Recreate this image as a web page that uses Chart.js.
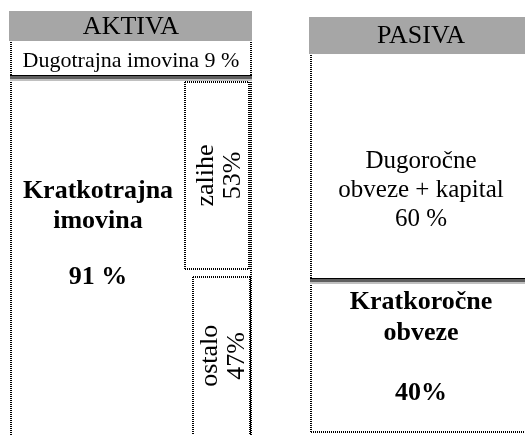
<!DOCTYPE html>
<html>
<head>
<meta charset="utf-8">
<script src="https://cdn.jsdelivr.net/npm/chart.js@4.4.1/dist/chart.umd.min.js"></script>
<style>
  html, body { margin: 0; padding: 0; background: #fff; overflow: hidden; }
  #wrap { position: relative; width: 525px; height: 435px; overflow: hidden; }
  #balance { position: absolute; left: -39px; top: 0; }
</style>
</head>
<body>
<div id="wrap"><canvas id="balance" width="620" height="445"></canvas></div>
<script>
// data
const columns = ["AKTIVA", "PASIVA"];
const aktivaNames = [["Dugotrajna", "imovina"], ["Kratkotrajna", "imovina"]];
const aktivaValues = [9, 91];
const aktivaSuffix = [" %", " %"];
const pasivaNames = [["Dugoročne", "obveze + kapital"], ["Kratkoročne", "obveze"]];
const pasivaValues = [60, 40];
const pasivaSuffix = [" %", "%"];
// split of kratkotrajna imovina (% of it)
const currentNames = ["zalihe", "ostalo"];
const currentValues = [53, 47];
const currentSuffix = ["%", "%"];

const SERIF = '"Liberation Serif", "Times New Roman", serif';
const VIEW_RIGHT = 564; // window edge in canvas px
const VIEW_BOTTOM = 435;

var datasets = [];
aktivaValues.forEach(function (v, i) {
  datasets.push({ label: aktivaNames[i].join(" "), data: [v, null], yAxisID: "y", stack: "bs" });
});
pasivaValues.forEach(function (v, i) {
  datasets.push({ label: pasivaNames[i].join(" "), data: [null, v], yAxisID: "y2", stack: "bs" });
});
datasets.forEach(function (d) {
  d.backgroundColor = "#ffffff";
  d.borderWidth = 0;
  d.categoryPercentage = 1;
  d.barPercentage = 0.8;
});

function boxOf(chart, dsIndex, idx) {
  var el = chart.getDatasetMeta(dsIndex).data[idx];
  return {
    left: el.x - el.width / 2,
    right: el.x + el.width / 2,
    top: Math.min(el.y, el.base),
    bottom: Math.max(el.y, el.base),
  };
}

function dotted(ctx, x1, y1, x2, y2) {
  ctx.save();
  ctx.strokeStyle = "#000";
  ctx.lineWidth = 2;
  ctx.setLineDash([1, 1]);
  ctx.beginPath();
  ctx.moveTo(Math.round(x1), Math.round(y1));
  ctx.lineTo(Math.round(x2), Math.round(y2));
  ctx.stroke();
  ctx.restore();
}

function dottedRect(ctx, l, t, r, b) {
  dotted(ctx, l, t, r, t);
  dotted(ctx, l, t, l, b);
  dotted(ctx, r, t, r, b);
  dotted(ctx, l, b, r, b);
}

function separator(ctx, l, r, y) {
  y = Math.round(y);
  ctx.fillStyle = "#000";
  ctx.fillRect(l, y - 3, r - l, 1);
  ctx.fillStyle = "#5f5f5f";
  ctx.fillRect(l, y - 2, r - l, 3);
  ctx.fillStyle = "#c0c0c0";
  ctx.fillRect(l, y + 1, r - l, 2);
}

function header(ctx, text, l, r, t, b, cx) {
  ctx.fillStyle = "#a6a6a6";
  ctx.fillRect(l, t, r - l, b - t);
  ctx.fillStyle = "#000";
  ctx.font = "26px " + SERIF;
  ctx.textAlign = "center";
  ctx.textBaseline = "middle";
  ctx.fillText(text, cx, (t + b) / 2 + 1);
}

function lines(ctx, arr, x, ys, font) {
  ctx.fillStyle = "#000";
  ctx.font = font;
  ctx.textAlign = "center";
  ctx.textBaseline = "middle";
  arr.forEach(function (s, i) {
    ctx.fillText(s, x, ys[i]);
  });
}

const balancePlugin = {
  id: "balanceSheet",
  afterDatasetsDraw: function (chart) {
    var ctx = chart.ctx;
    var a0 = boxOf(chart, 0, 0);
    var a1 = boxOf(chart, 1, 0);
    var p0 = boxOf(chart, 2, 1);
    var p1 = boxOf(chart, 3, 1);

    // headers
    header(ctx, columns[0], a0.left - 2, a0.right + 1, a0.top - 31, a0.top - 1, (a0.left + a0.right) / 2);
    header(ctx, columns[1], p0.left - 2, p0.right + 2, p0.top - 38, p0.top - 1, (p0.left + VIEW_RIGHT) / 2 + 3);

    // aktiva frame
    dotted(ctx, a0.left, a0.top, a0.left, a1.bottom);
    dotted(ctx, a0.right, a0.top, a0.right, a1.bottom);
    separator(ctx, a0.left - 1, a0.right + 1, a0.bottom);

    // pasiva frame
    dotted(ctx, p0.left, p0.top, p0.left, p1.bottom);
    dotted(ctx, p0.left, p1.bottom, p0.right, p1.bottom);
    separator(ctx, p0.left - 1, p0.right + 1, p0.bottom);

    // zalihe / ostalo inside kratkotrajna imovina
    var ys = chart.scales.y;
    var cum = 0;
    var subBoxes = currentValues.map(function (v, i) {
      var from = aktivaValues[0] + (aktivaValues[1] * cum) / 100;
      cum += v;
      var to = aktivaValues[0] + (aktivaValues[1] * cum) / 100;
      var t = ys.getPixelForValue(from) + 4;
      var b = ys.getPixelForValue(to) - (i === currentValues.length - 1 ? 0 : 4);
      var l = i === 0 ? a1.right - 66 : a1.right - 58;
      var r = i === 0 ? a1.right - 2 : a1.right - 1;
      dottedRect(ctx, l, t, r, b);
      var cy = (t + Math.min(b, VIEW_BOTTOM)) / 2;
      ctx.save();
      ctx.translate((l + r) / 2, cy);
      ctx.rotate(-Math.PI / 2);
      lines(ctx, [currentNames[i], v + currentSuffix[i]], 0, [-11, 16], "26px " + SERIF);
      ctx.restore();
      return { left: l, right: r, top: t, bottom: b };
    });

    // dugotrajna imovina (short box, one line)
    var txt = aktivaNames[0].join(" ") + " " + aktivaValues[0] + aktivaSuffix[0];
    var size = 25;
    ctx.font = size + "px " + SERIF;
    while (ctx.measureText(txt).width > a0.right - a0.left - 14 && size > 10) {
      size -= 1;
      ctx.font = size + "px " + SERIF;
    }
    lines(ctx, [txt], (a0.left + a0.right) / 2, [(a0.top + a0.bottom) / 2 + 1], size + "px " + SERIF);

    // kratkotrajna imovina
    var kx = (a1.left + subBoxes[0].left) / 2;
    var anchor = (a1.top + Math.min(a1.bottom, VIEW_BOTTOM)) / 2 - 22;
    lines(ctx, aktivaNames[1].concat([aktivaValues[1] + aktivaSuffix[1]]), kx,
      [anchor - 43, anchor - 13, anchor + 43], "bold 26px " + SERIF);

    // pasiva texts
    var px = (p0.left + VIEW_RIGHT) / 2 + 3;
    var pm = (p0.top + p0.bottom) / 2 + 22;
    lines(ctx, pasivaNames[0].concat([pasivaValues[0] + pasivaSuffix[0]]), px,
      [pm - 29, pm, pm + 29], "25px " + SERIF);
    lines(ctx, pasivaNames[1].concat([pasivaValues[1] + pasivaSuffix[1]]), px,
      [p1.top + 21, p1.top + 52, p1.top + 112], "bold 26px " + SERIF);
  },
};

var chart = new Chart(document.getElementById("balance"), {
  type: "bar",
  data: { labels: columns, datasets: datasets },
  options: {
    responsive: false,
    animation: false,
    layout: { padding: { left: 20, right: 0, top: 42, bottom: 0 } },
    plugins: { legend: { display: false }, tooltip: { enabled: false } },
    scales: {
      x: { display: false, stacked: true },
      y: { display: false, stacked: true, reverse: true, min: 0, max: 100 },
      y2: { display: false, stacked: true, reverse: true, min: -3.45, max: 103.45 },
    },
  },
  plugins: [balancePlugin],
});
</script>
</body>
</html>
